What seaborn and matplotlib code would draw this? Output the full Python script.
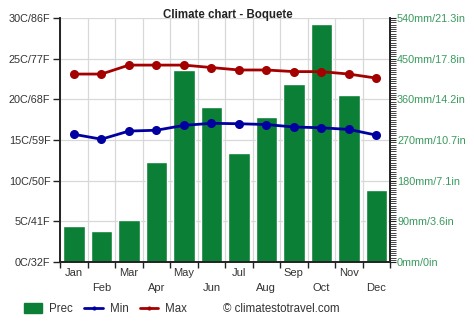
import numpy as np
import pandas as pd
import matplotlib
matplotlib.use("Agg")
import matplotlib.pyplot as plt
from matplotlib.lines import Line2D
from matplotlib.patches import Patch
from matplotlib.ticker import MultipleLocator
import seaborn as sns

months = ["Jan", "Feb", "Mar", "Apr", "May", "Jun", "Jul", "Aug", "Sep", "Oct", "Nov", "Dec"]
prec = [80, 69, 93, 221, 425, 344, 241, 320, 394, 526, 370, 159]
tmin = [15.7, 15.1, 16.1, 16.2, 16.8, 17.05, 17.0, 16.9, 16.6, 16.5, 16.3, 15.6]
tmax = [23.1, 23.1, 24.2, 24.2, 24.2, 23.9, 23.6, 23.6, 23.4, 23.4, 23.1, 22.6]
temp_ticks = [0, 5, 10, 15, 20, 25, 30]
temp_labels = ["0C/32F", "5C/41F", "10C/50F", "15C/59F", "20C/68F", "25C/77F", "30C/86F"]
prec_ticks = [0, 90, 180, 270, 360, 450, 540]
prec_labels = ["0mm/0in", "90mm/3.6in", "180mm/7.1in", "270mm/10.7in",
               "360mm/14.2in", "450mm/17.8in", "540mm/21.3in"]

sns.set_style("white")
plt.rcParams['font.family'] = ['Liberation Sans', 'DejaVu Sans']

GREEN = "#0b7f36"
RED = "#a50000"
BLUE = "#0000a0"
TXT = "#333333"
LBLG = "#3a9a5e"

df = pd.DataFrame({"month": months, "prec": prec, "tmin": tmin, "tmax": tmax})

fig = plt.figure(figsize=(4.74, 3.31), dpi=100)
ax_p = fig.add_axes([0.127, 0.208, 0.696, 0.738])
ax_t = ax_p.twinx()

sns.barplot(data=df, x="month", y="prec", color=GREEN, saturation=1, width=0.78, ax=ax_p, zorder=2)
ax_p.set_ylim(0, 540)
ax_p.set_xlim(-0.5, 11.5)
ax_p.set_yticks(prec_ticks)
ax_p.set_yticklabels(prec_labels, color=LBLG, fontsize=7.8)
ax_p.yaxis.tick_right()
ax_p.yaxis.set_minor_locator(MultipleLocator(5))
ax_p.tick_params(axis="y", which="major", length=4, width=0.8, color="#222222", pad=1, direction="out")
ax_p.tick_params(axis="y", which="minor", length=4, width=0.6, color="#222222", right=True, left=False)
ax_p.set_xlabel("")
ax_p.set_ylabel("")
ax_p.grid(True, axis="y", color="#d8d8d8", linewidth=0.9, zorder=0)
ax_p.set_axisbelow(True)
# month boundaries as gridlines / ticks; month labels as minor ticks
ax_p.set_xticks(np.arange(-0.5, 12, 1.0))
ax_p.set_xticklabels([])
ax_p.set_xticks(np.arange(0, 12, 1.0), minor=True)
ax_p.set_xticklabels([m if i % 2 == 0 else "\n" + m for i, m in enumerate(months)], minor=True,
                     fontsize=8, color=TXT, linespacing=1.6)
ax_p.tick_params(axis="x", which="major", length=4, width=1, color="#222222", direction="out", bottom=True)
ax_p.tick_params(axis="x", which="minor", length=0, pad=4)
ax_p.grid(True, axis="x", which="major", color="#d8d8d8", linewidth=0.9)

sns.pointplot(data=df, x="month", y="tmin", color=BLUE, markers="o", markersize=5,
              linewidth=2, ax=ax_t)
sns.pointplot(data=df, x="month", y="tmax", color=RED, markers="o", markersize=5,
              linewidth=2, ax=ax_t)
ax_t.set_ylim(0, 30)
ax_t.set_xlim(-0.5, 11.5)
ax_t.yaxis.tick_left()
ax_t.yaxis.set_label_position("left")
ax_t.set_yticks(temp_ticks)
ax_t.set_yticklabels(temp_labels, fontsize=7.8, color=TXT)
ax_t.tick_params(axis="y", length=5, width=1, color="#222222", pad=2, direction="out")
ax_t.set_ylabel("")
ax_t.set_xlabel("")
ax_t.grid(False)
ax_t.tick_params(axis="x", which="both", bottom=False, labelbottom=False)

for a in (ax_p, ax_t):
    a.spines["top"].set_visible(False)
    for s in ("left", "right", "bottom"):
        a.spines[s].set_color("#222222")
        a.spines[s].set_linewidth(1.2)

fig.text(0.48, 0.955, "Climate chart - Boquete", ha="center", va="center",
         fontsize=8.3, fontweight="bold", color="#222222")

handles = [Patch(facecolor=GREEN, edgecolor=GREEN),
           Line2D([0], [0], color=BLUE, lw=2, marker="o", markersize=2),
           Line2D([0], [0], color=RED, lw=2, marker="o", markersize=2)]
leg = fig.legend(handles, ["Prec", "Min", "Max"], loc="center left",
                 bbox_to_anchor=(0.028, 0.066), ncol=3, frameon=False, fontsize=8.3,
                 handlelength=1.6, handleheight=0.9, columnspacing=1.0, handletextpad=0.6)
for t in leg.get_texts():
    t.set_color(TXT)
fig.text(0.47, 0.066, "\u00a9 climatestotravel.com", ha="left", va="center", fontsize=8.3, color=TXT)

fig.savefig("out.png", dpi=100)
